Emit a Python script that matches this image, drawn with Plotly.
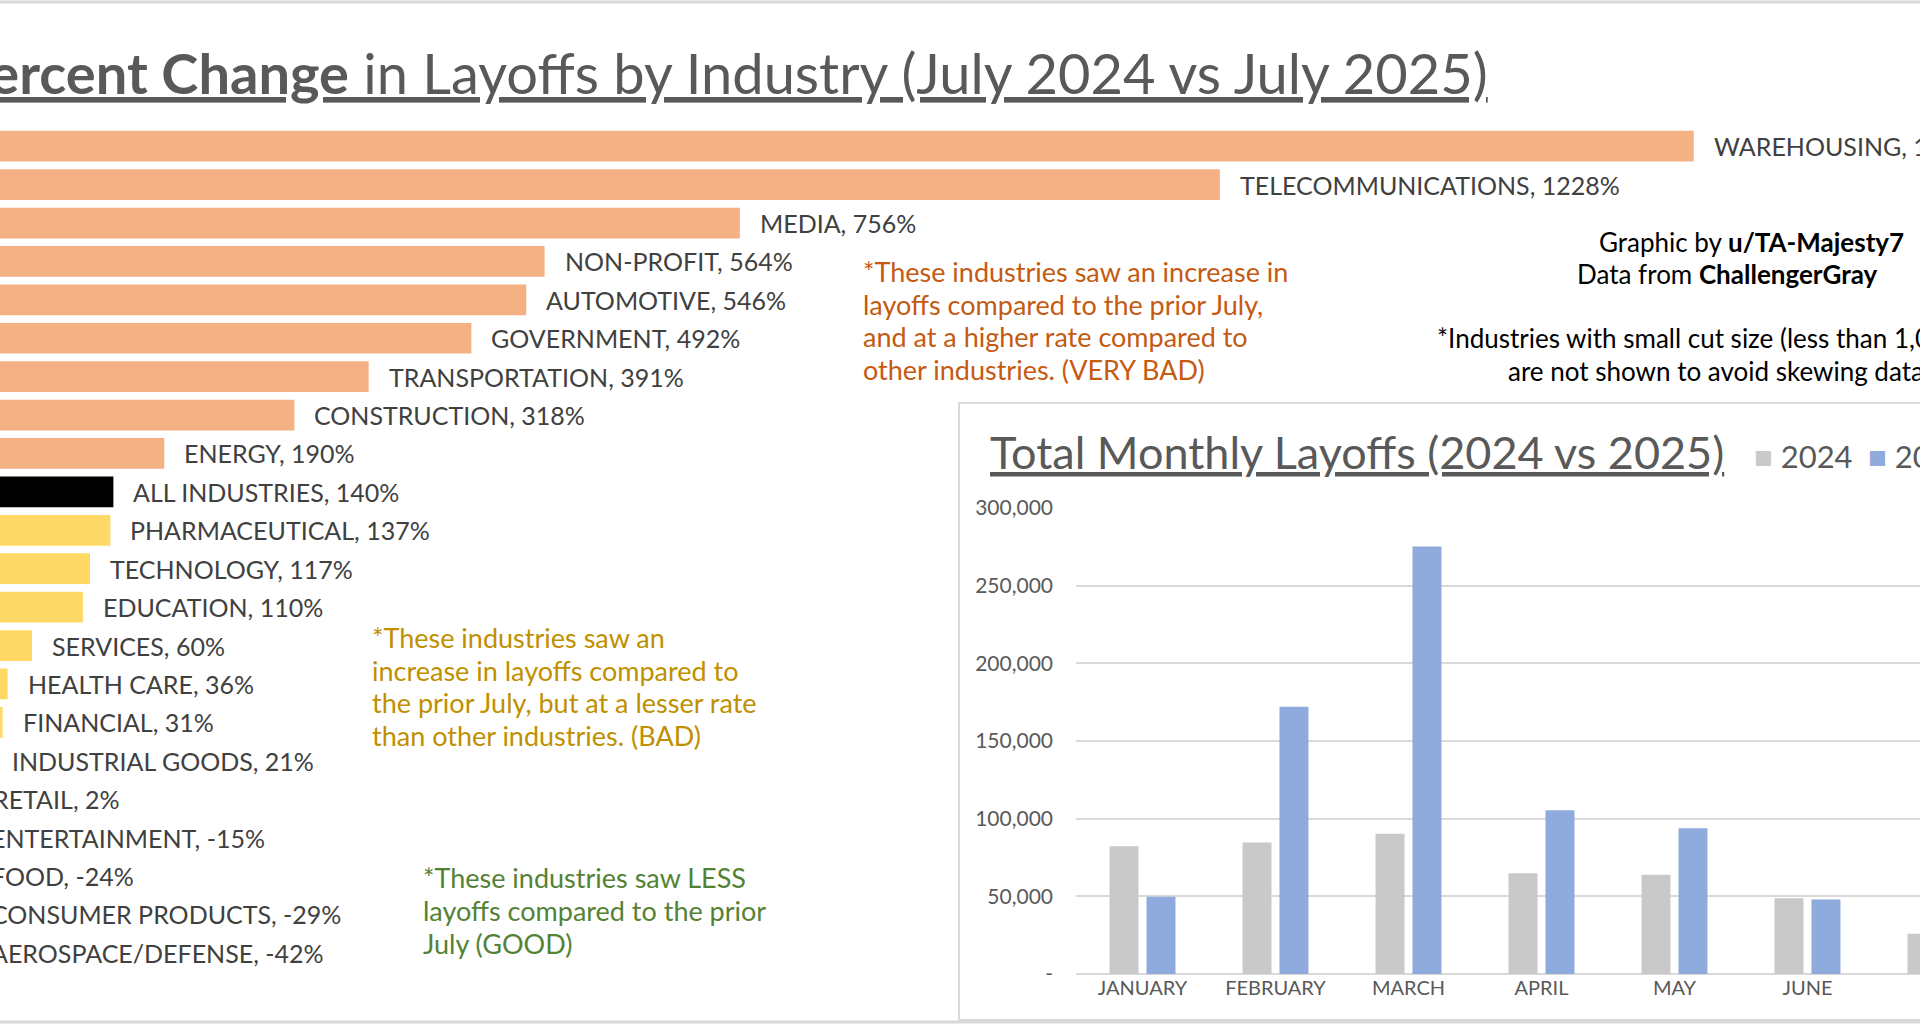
import plotly.graph_objects as go

industries = ["WAREHOUSING", "TELECOMMUNICATIONS", "MEDIA", "NON-PROFIT", "AUTOMOTIVE", "GOVERNMENT",
              "TRANSPORTATION", "CONSTRUCTION", "ENERGY", "ALL INDUSTRIES", "PHARMACEUTICAL", "TECHNOLOGY",
              "EDUCATION", "SERVICES", "HEALTH CARE", "FINANCIAL", "INDUSTRIAL GOODS", "RETAIL",
              "ENTERTAINMENT", "FOOD", "CONSUMER PRODUCTS", "AEROSPACE/DEFENSE"]
pct_change = [1694, 1228, 756, 564, 546, 492, 391, 318, 190, 140, 137, 117, 110, 60, 36, 31, 21, 2,
              -15, -24, -29, -42]
groups = ["very bad"] * 9 + ["all"] + ["bad"] * 8 + ["good"] * 4

months = ["JANUARY", "FEBRUARY", "MARCH", "APRIL", "MAY", "JUNE", "JULY"]
layoffs_2024 = [82307, 84638, 90309, 64789, 63816, 48786, 25885]
layoffs_2025 = [49795, 172017, 275240, 105441, 93816, 47999, 62075]
y_ticks = [0, 50000, 100000, 150000, 200000, 250000, 300000]
y_ticktext = ["-", "50,000", "100,000", "150,000", "200,000", "250,000", "300,000"]

W, H = 1920, 1024
def px(x): return x / W
def py(y): return 1 - y / H

FONT = "Lato"
TXT = "#404040"
group_colors = {"very bad": "#F4B183", "all": "#000000", "bad": "#FFD966", "good": "#A9D18E"}
C2024, C2025 = "#C9C9C9", "#8FAADC"

X_RANGE = [28.5, 28.5 + 1888]
Y_DOMAIN = [py(972), py(127)]

fig = go.Figure()
fig.add_trace(go.Bar(
    x=pct_change, y=industries, orientation="h", width=0.8,
    marker=dict(color=[group_colors[g] for g in groups], line=dict(width=0)),
    showlegend=False, xaxis="x", yaxis="y", hoverinfo="skip"))

fig.add_trace(go.Bar(x=months, y=layoffs_2024, name="2024", marker_color=C2024, showlegend=False,
                     width=0.218, offset=-0.248, marker_line_width=0,
                     xaxis="x2", yaxis="y2", hoverinfo="skip"))
fig.add_trace(go.Bar(x=months, y=layoffs_2025, name="2025", marker_color=C2025, showlegend=False,
                     width=0.218, offset=0.03, marker_line_width=0,
                     xaxis="x2", yaxis="y2", hoverinfo="skip"))

annotations = []
n = len(industries)
for i, (name, v) in enumerate(zip(industries, pct_change)):
    xp = (max(v, 0) - X_RANGE[0]) / (X_RANGE[1] - X_RANGE[0])
    yp = Y_DOMAIN[1] - (i + 0.5) / n * (Y_DOMAIN[1] - Y_DOMAIN[0])
    annotations.append(dict(x=xp, y=yp, xref="paper", yref="paper", xanchor="left", yanchor="middle",
                            xshift=18, text=f"{name}, {v}%", showarrow=False,
                            font=dict(family=FONT, size=25, color=TXT)))

annotations.append(dict(x=px(1490), y=py(72), xref="paper", yref="paper", xanchor="right", yanchor="middle",
                        text="<b><u>Percent Change</u></b><u> in Layoffs by Industry (July 2024 vs July 2025)</u>",
                        showarrow=False, font=dict(family=FONT, size=56, color="#595959")))

def note(x, ys, lines, color, size=27):
    for y, t in zip(ys, lines):
        annotations.append(dict(x=px(x), y=py(y), xref="paper", yref="paper", xanchor="left",
                                yanchor="middle", text=t, showarrow=False,
                                font=dict(family=FONT, size=size, color=color)))

note(861, [271, 304, 336, 369], ["*These industries saw an increase in", "layoffs compared to the prior July,",
                                 "and at a higher rate compared to", "other industries. (VERY BAD)"], "#C55A11")
note(370, [637, 670, 702, 735], ["*These industries saw an", "increase in layoffs compared to",
                                 "the prior July, but at a lesser rate", "than other industries. (BAD)"], "#BF9000")
note(421, [877, 910, 943], ["*These industries saw LESS", "layoffs compared to the prior",
                            "July (GOOD)"], "#548235")
note(1597, [242], ["Graphic by <b>u/TA-Majesty7</b>"], "#000000", 26)
note(1575, [274], ["Data from <b>ChallengerGray</b>"], "#000000", 26)
note(1435, [338], ["*Industries with small cut size (less than 1,000)"], "#000000", 26)
note(1506, [371], ["are not shown to avoid skewing data"], "#000000", 26)

annotations.append(dict(x=px(988), y=py(452), xref="paper", yref="paper", xanchor="left", yanchor="middle",
                        text="<u>Total Monthly Layoffs (2024 vs 2025)</u>", showarrow=False,
                        font=dict(family=FONT, size=45, color="#595959")))
# legend
for x0, col, lab in [(1752, C2024, "2024"), (1866, C2025, "2025")]:
    annotations.append(dict(x=px(x0), y=py(456), xref="paper", yref="paper", xanchor="left", yanchor="middle",
                            text=f"<span style='color:{col}'>■</span> {lab}", showarrow=False,
                            font=dict(family=FONT, size=31, color="#595959")))

shapes = [
    dict(type="rect", xref="paper", yref="paper", x0=px(959), x1=px(1935), y0=py(1020), y1=py(403),
         line=dict(color="#D9D9D9", width=2), fillcolor="white", layer="below"),
    dict(type="line", xref="paper", yref="paper", x0=0, x1=1, y0=py(2), y1=py(2),
         line=dict(color="#D9D9D9", width=3)),
    dict(type="line", xref="paper", yref="paper", x0=0, x1=1, y0=py(1022), y1=py(1022),
         line=dict(color="#D9D9D9", width=3)),
]

fig.update_layout(
    width=W, height=H, margin=dict(l=0, r=0, t=0, b=0, autoexpand=False),
    paper_bgcolor="white", plot_bgcolor="rgba(0,0,0,0)", showlegend=False,
    font=dict(family=FONT, color=TXT),
    barmode="overlay",
    xaxis=dict(domain=[0, 1], range=X_RANGE, visible=False),
    yaxis=dict(domain=Y_DOMAIN, categoryorder="array", categoryarray=industries,
               autorange="reversed", visible=False),
    xaxis2=dict(domain=[px(1076), 1], range=[-0.5, (1920 - 1076) / 133 - 0.5], anchor="y2",
                showgrid=False, showline=False, ticks="",
                tickfont=dict(family=FONT, size=20, color="#595959")),
    yaxis2=dict(domain=[py(974), py(508)], range=[0, 300000], anchor="x2",
                tickvals=y_ticks, ticktext=y_ticktext, showgrid=True, gridcolor="#D9D9D9", gridwidth=2,
                zeroline=True, zerolinecolor="#D9D9D9", zerolinewidth=2, showline=False,
                ticklabelstandoff=22, tickfont=dict(family=FONT, size=21, color="#595959")),
    annotations=annotations, shapes=shapes,
)

fig.write_html("out.html", config={"displayModeBar": False},
               post_script="document.body.style.margin='0';document.body.style.overflow='hidden';")
